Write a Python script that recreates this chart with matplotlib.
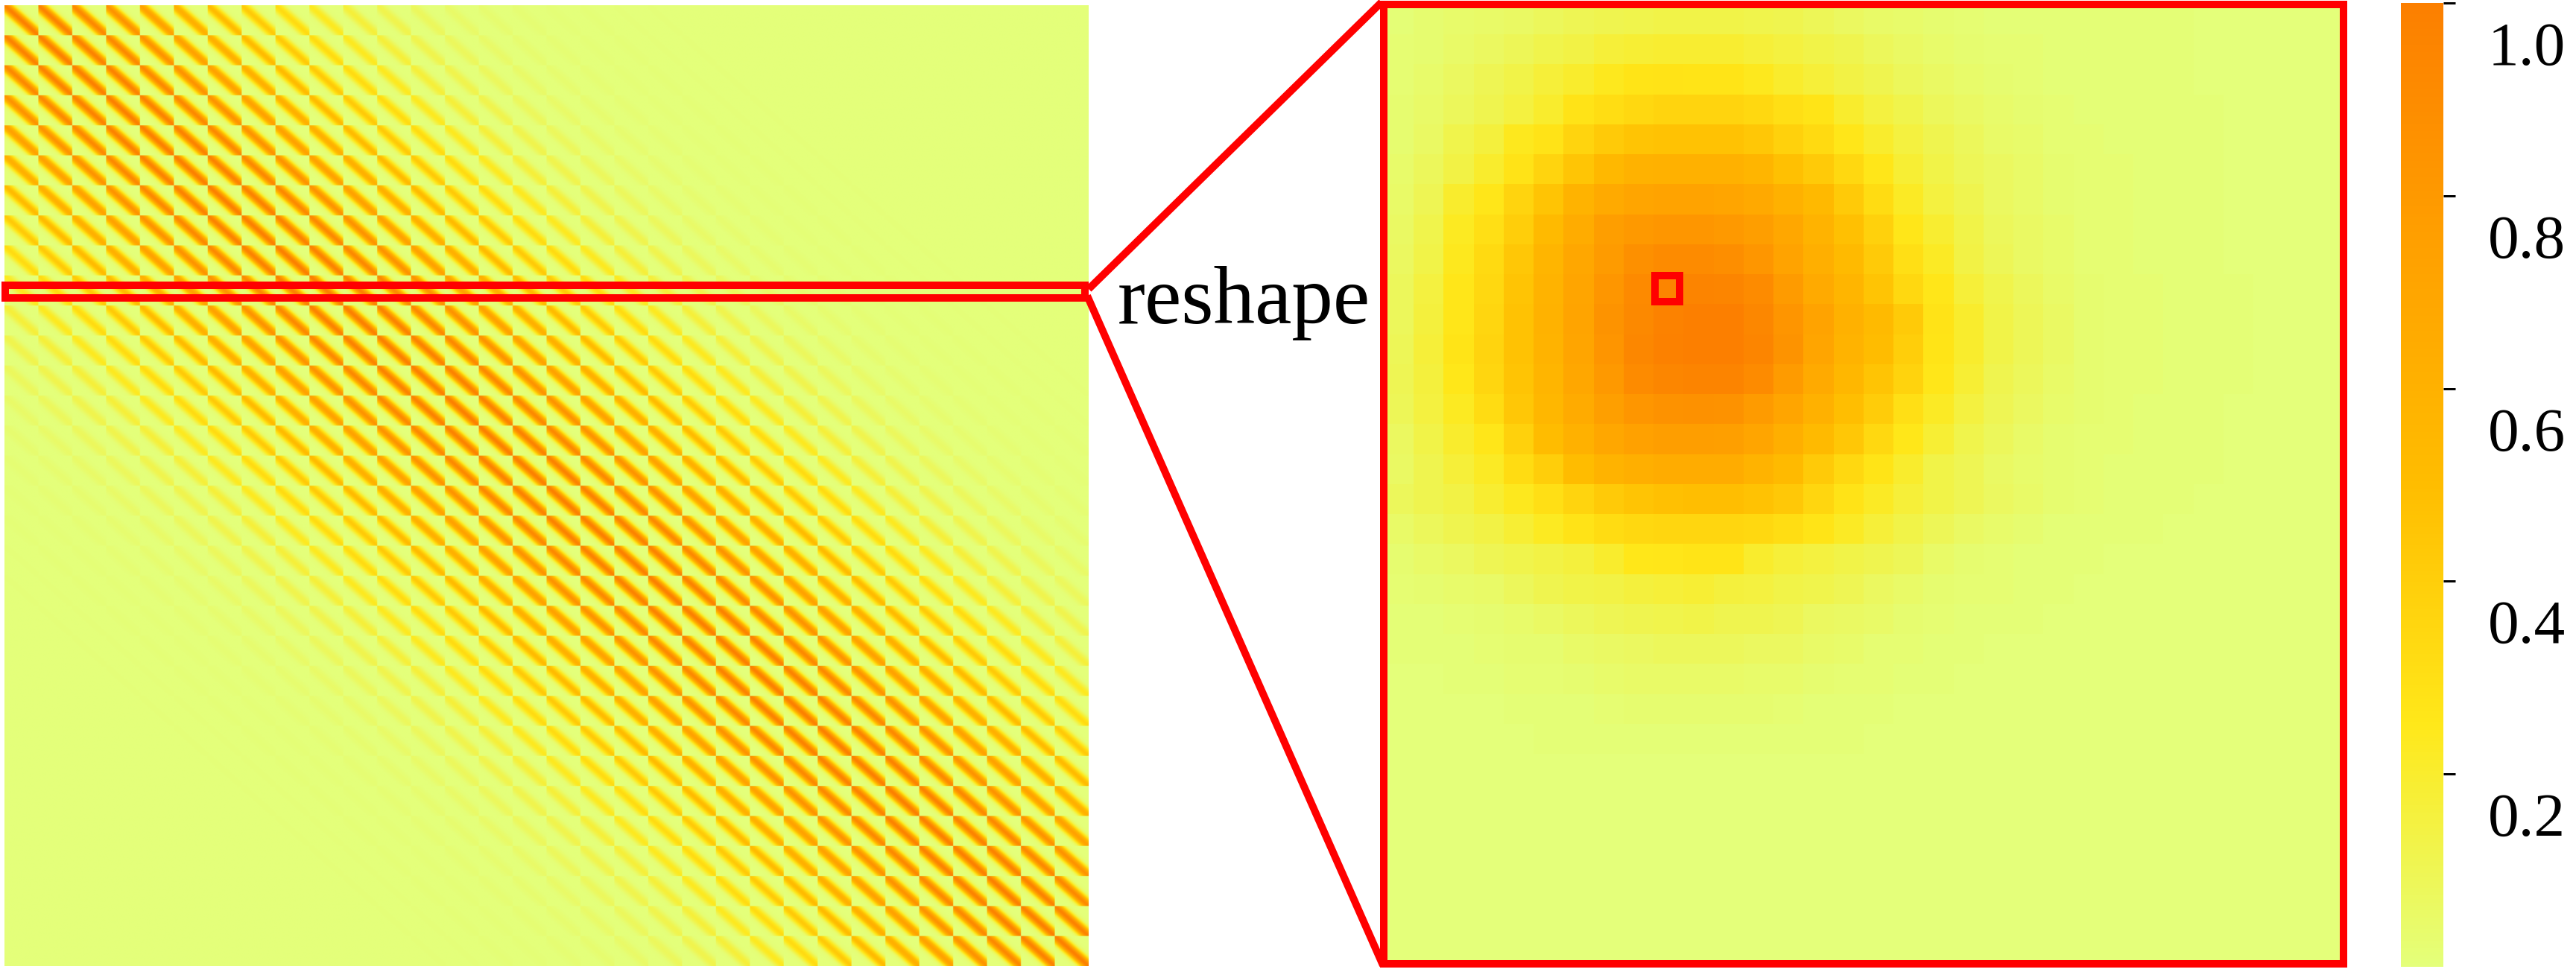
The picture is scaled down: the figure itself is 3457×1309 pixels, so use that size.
"""Kernel matrix, one row of it reshaped to a 32x32 grid, and a shared colorbar."""

import numpy as np
import matplotlib
matplotlib.use("Agg")
import matplotlib.pyplot as plt
from matplotlib.lines import Line2D
from matplotlib.patches import Rectangle
from matplotlib.transforms import ScaledTranslation

# ==========================================
# 1. Values
# ==========================================
# Right panel, in percent of full scale, one list per grid row
RESHAPED_PCT = [
    [1, 3, 4, 5, 6, 8, 10, 11, 12, 13, 13, 13, 12, 11, 9, 7, 5, 4, 3, 2, 1, 1, 1, 1, 1, 1, 1, 0, 0, 0, 0, 0],
    [2, 3, 5, 7, 9, 12, 14, 17, 18, 19, 19, 19, 17, 15, 13, 11, 8, 6, 4, 3, 2, 2, 1, 1, 1, 1, 1, 0, 0, 0, 0, 0],
    [2, 4, 7, 10, 13, 17, 20, 24, 27, 28, 27, 27, 24, 20, 17, 14, 11, 8, 6, 4, 3, 2, 1, 1, 1, 1, 1, 0, 0, 0, 0, 0],
    [3, 5, 8, 11, 15, 20, 28, 31, 34, 36, 36, 36, 34, 30, 27, 20, 15, 12, 8, 6, 4, 3, 2, 1, 1, 1, 1, 1, 0, 0, 0, 0],
    [3, 6, 12, 16, 24, 28, 36, 42, 46, 47, 47, 47, 44, 38, 33, 26, 20, 15, 11, 8, 5, 4, 2, 2, 1, 1, 1, 1, 0, 0, 0, 0],
    [4, 8, 14, 20, 28, 36, 45, 54, 59, 60, 60, 60, 56, 48, 42, 34, 26, 18, 13, 9, 7, 5, 3, 2, 2, 1, 1, 1, 0, 0, 0, 0],
    [5, 10, 20, 26, 36, 46, 58, 66, 70, 72, 72, 70, 67, 60, 53, 42, 32, 22, 15, 11, 7, 5, 3, 2, 2, 1, 1, 1, 0, 0, 0, 0],
    [6, 12, 23, 30, 40, 52, 64, 76, 80, 82, 82, 80, 76, 68, 58, 48, 38, 26, 19, 13, 8, 6, 4, 2, 2, 1, 1, 1, 0, 0, 0, 0],
    [7, 13, 24, 33, 44, 56, 68, 78, 87, 90, 90, 88, 82, 72, 62, 52, 42, 30, 22, 14, 9, 6, 4, 2, 2, 1, 1, 1, 0, 0, 0, 0],
    [8, 15, 26, 34, 46, 58, 70, 82, 91, 95, 96, 95, 90, 78, 66, 56, 46, 34, 26, 17, 12, 8, 5, 3, 2, 2, 1, 1, 1, 0, 0, 0],
    [8, 16, 26, 35, 47, 59, 71, 84, 92, 97, 100, 100, 93, 83, 72, 60, 52, 42, 28, 20, 13, 9, 6, 3, 2, 2, 1, 1, 1, 0, 0, 0],
    [9, 17, 27, 36, 47, 58, 70, 83, 93, 98, 100, 100, 95, 84, 70, 58, 50, 40, 27, 20, 13, 9, 6, 3, 2, 2, 1, 1, 1, 0, 0, 0],
    [10, 16, 25, 35, 46, 57, 68, 80, 90, 94, 96, 96, 90, 78, 66, 55, 46, 37, 26, 18, 11, 8, 5, 3, 2, 2, 1, 1, 1, 0, 0, 0],
    [9, 15, 23, 32, 44, 55, 65, 75, 82, 85, 86, 85, 78, 70, 60, 49, 41, 30, 22, 15, 10, 7, 4, 3, 2, 1, 1, 1, 0, 0, 0, 0],
    [7, 13, 20, 26, 38, 50, 60, 68, 74, 76, 76, 75, 70, 62, 52, 44, 34, 25, 18, 12, 8, 5, 3, 2, 2, 1, 1, 1, 0, 0, 0, 0],
    [6, 11, 17, 22, 32, 40, 50, 58, 62, 64, 64, 64, 58, 52, 42, 34, 27, 20, 13, 10, 6, 4, 3, 2, 1, 1, 1, 1, 0, 0, 0, 0],
    [8, 11, 14, 19, 24, 30, 36, 42, 46, 48, 49, 49, 47, 43, 35, 28, 22, 17, 13, 10, 7, 5, 3, 2, 1, 1, 1, 0, 0, 0, 0, 0],
    [5, 8, 11, 14, 18, 23, 28, 32, 34, 35, 35, 35, 34, 31, 27, 22, 17, 13, 9, 6, 4, 3, 1, 1, 1, 1, 0, 0, 0, 0, 0, 0],
    [3, 5, 7, 10, 12, 14, 16, 20, 25, 26, 27, 27, 20, 17, 15, 13, 11, 9, 5, 3, 2, 1, 1, 1, 0, 0, 0, 0, 0, 0, 0, 0],
    [2, 3, 4, 5, 8, 11, 13, 14, 16, 17, 18, 16, 15, 13, 12, 10, 7, 5, 3, 2, 2, 1, 1, 0, 0, 0, 0, 0, 0, 0, 0, 0],
    [1, 1, 2, 3, 4, 6, 8, 10, 11, 12, 13, 11, 11, 10, 7, 6, 5, 3, 2, 1, 1, 1, 0, 0, 0, 0, 0, 0, 0, 0, 0, 0],
    [1, 1, 1, 2, 3, 3, 5, 6, 7, 8, 8, 8, 7, 7, 5, 4, 2, 2, 1, 1, 0, 0, 0, 0, 0, 0, 0, 0, 0, 0, 0, 0],
    [0, 0, 1, 1, 2, 2, 3, 4, 5, 5, 5, 5, 4, 4, 3, 2, 2, 1, 1, 0, 0, 0, 0, 0, 0, 0, 0, 0, 0, 0, 0, 0],
    [0, 0, 0, 0, 1, 1, 1, 2, 3, 3, 3, 3, 3, 2, 1, 1, 1, 0, 0, 0, 0, 0, 0, 0, 0, 0, 0, 0, 0, 0, 0, 0],
    [0, 0, 0, 0, 0, 1, 1, 1, 1, 1, 1, 1, 1, 1, 1, 1, 0, 0, 0, 0, 0, 0, 0, 0, 0, 0, 0, 0, 0, 0, 0, 0],
    [0] * 32,
    [0] * 32,
    [0] * 32,
    [0] * 32,
    [0] * 32,
    [0] * 32,
    [0] * 32,
]

# Left panel: strength of a block against its distance from the main diagonal
BLOCK_LAG = [1.0, 0.98, 0.93, 0.85, 0.74, 0.62, 0.52, 0.43, 0.33, 0.24, 0.17, 0.12, 0.08, 0.05, 0.03, 0.02,
             0.01, 0.01, 0.005, 0.005, 0, 0, 0, 0, 0, 0, 0, 0, 0, 0, 0, 0]
# Left panel: strength inside a block against distance from the block's diagonal
BAND_LAG = [1.0, 0.97, 0.92, 0.85, 0.76, 0.65, 0.53, 0.42, 0.31, 0.21, 0.13, 0.08, 0.05, 0.03, 0.02, 0.01,
            0.005, 0, 0, 0, 0, 0, 0, 0, 0, 0, 0, 0, 0, 0, 0, 0]

CBAR_TICKS = [0.2, 0.4, 0.6, 0.8, 1.0]
MARKED_CELL = (9, 9)  # row, col of the small red square
MARKED_ROW_SPAN = (9.33, 9.75)  # block rows covered by the long red box

# ==========================================
# 2. Layout helpers (reference pixels)
# ==========================================
W, H = 3457, 1309
DPI = 100
RED = "#ff0000"
STROKE = 10 * 72 / DPI


def add_axes_px(fig, x0, y0, x1, y1):
    return fig.add_axes([x0 / W, 1 - y1 / H, (x1 - x0) / W, (y1 - y0) / H])


def add_line_px(fig, p0, p1):
    fig.add_artist(Line2D([p0[0] / W, p1[0] / W], [1 - p0[1] / H, 1 - p1[1] / H],
                          transform=fig.transFigure, color=RED, linewidth=STROKE,
                          solid_capstyle="butt"))


# ==========================================
# 3. Plot
# ==========================================
plt.rcParams["font.family"] = ["Liberation Serif", "DejaVu Serif"]

reshaped = np.array(RESHAPED_PCT) / 100.0
n = reshaped.shape[0]
idx = np.arange(n)
lags = np.abs(idx[:, None] - idx[None, :])
kernel = np.kron(np.array(BLOCK_LAG)[lags], np.array(BAND_LAG)[lags])

fig = plt.figure(figsize=(W / DPI, H / DPI), dpi=DPI)

ax_left = add_axes_px(fig, 6, 7, 1461, 1297)
ax_left.imshow(kernel, cmap="Wistia", vmin=0, vmax=1, aspect="auto",
               interpolation="bilinear", extent=(0, n, n, 0))
ax_left.axis("off")
ax_left.add_patch(Rectangle((0.02, MARKED_ROW_SPAN[0]), n - 0.13,
                            MARKED_ROW_SPAN[1] - MARKED_ROW_SPAN[0], fill=False,
                            edgecolor=RED, linewidth=STROKE, clip_on=False))

ax_right = add_axes_px(fig, 1857, 6, 3145, 1294)
im = ax_right.imshow(reshaped, cmap="Wistia", vmin=0, vmax=1, aspect="auto",
                     interpolation="nearest", extent=(0, n, n, 0))
ax_right.set_xticks([])
ax_right.set_yticks([])
for spine in ax_right.spines.values():
    spine.set_color(RED)
    spine.set_linewidth(STROKE)
ax_right.add_patch(Rectangle((MARKED_CELL[1] + 0.05, MARKED_CELL[0] + 0.05), 0.82, 0.87, fill=False,
                             edgecolor=RED, linewidth=STROKE))

add_line_px(fig, (1461, 388), (1854, 3))
add_line_px(fig, (1459, 397), (1856, 1296))

fig.text(1500 / W, 1 - 434 / H, "reshape", fontsize=80, color="black", ha="left", va="baseline")

cax = add_axes_px(fig, 3222, 4, 3279, 1298)
cbar = fig.colorbar(im, cax=cax, ticks=CBAR_TICKS)
cbar.outline.set_visible(False)
cax.tick_params(axis="y", length=16 * 72 / DPI, width=3 * 72 / DPI, pad=44 * 72 / DPI, labelsize=60)
cax.set_yticklabels([f"{t:.1f}" for t in CBAR_TICKS])
shift = ScaledTranslation(0, -54 / DPI, fig.dpi_scale_trans)
for label in cax.get_yticklabels():
    label.set_transform(label.get_transform() + shift)

fig.savefig("out.png", dpi=DPI)
